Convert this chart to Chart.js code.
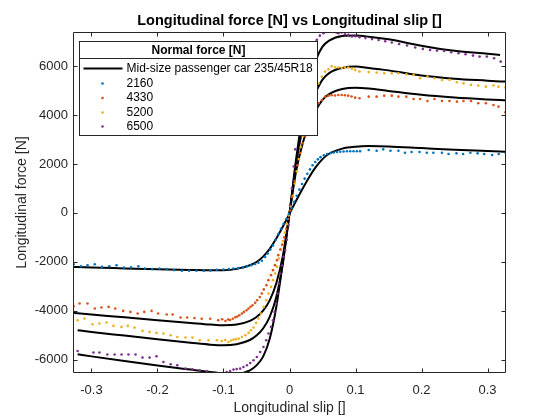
<!DOCTYPE html>
<html><head><meta charset="utf-8">
<script src="https://cdn.jsdelivr.net/npm/chart.js@4"></script>
<style>html,body{margin:0;padding:0;background:#fff}</style>
</head><body>
<canvas id="c" width="560" height="420"></canvas>
<script>
const titleText = 'Longitudinal force [N] vs Longitudinal slip []';
const xLabel = 'Longitudinal slip []';
const yLabel = 'Longitudinal force [N]';
const legendTitle = 'Normal force [N]';
const lineName = 'Mid-size passenger car 235/45R18';
const loads = ['2160', '4330', '5200', '6500'];
const xTicks = [-0.3, -0.2, -0.1, 0, 0.1, 0.2, 0.3];
const yTicks = [-6000, -4000, -2000, 0, 2000, 4000, 6000];
const xRange = [-0.328, 0.328];
const yRange = [-6550, 7400];

// fitted model curves (black lines)
const lineSlip = [-0.328,-0.321,-0.3,-0.25,-0.2,-0.15,-0.12,-0.1,-0.08,-0.06,-0.05,-0.04,-0.03,-0.02,-0.01,0,0.01,0.02,0.03,0.04,0.05,0.06,0.08,0.1,0.12,0.15,0.2,0.25,0.3,0.319,0.328];
const fit2160 = [-2207,-2215,-2235,-2270,-2305,-2335,-2350,-2345,-2290,-2140,-2010,-1790,-1470,-1050,-560,-30,500,1000,1470,1880,2200,2420,2630,2710,2735,2720,2650,2580,2530,2510,2500];
const fit4330 = [-4092,-4110,-4160,-4270,-4390,-4500,-4565,-4596,-4570,-4420,-4260,-4000,-3580,-2880,-1750,-20,1700,2850,3650,4200,4620,4860,5070,5120,5090,4990,4830,4720,4640,4615,4600];
const fit5200 = [null,-4800,-4870,-5020,-5170,-5310,-5390,-5415,-5370,-5200,-5020,-4730,-4250,-3440,-2050,-20,2000,3450,4350,4950,5450,5720,5930,5985,5930,5830,5620,5490,5410,5380,5370];
const fit6500 = [null,-5784,-5870,-6060,-6240,-6410,-6510,-6570,-6580,-6440,-6240,-5880,-5150,-3850,-2000,-20,2200,4000,5300,6250,6800,7050,7240,7255,7210,7100,6840,6630,6510,6463,null];

// measured data points [slip, force]
const meas2160 = [[-0.327,-2100],[-0.316,-2180],[-0.306,-2140],[-0.295,-2100],[-0.284,-2210],[-0.273,-2180],[-0.262,-2140],[-0.251,-2240],[-0.240,-2230],[-0.229,-2180],[-0.219,-2280],[-0.208,-2300],[-0.197,-2280],[-0.186,-2300],[-0.175,-2340],[-0.163,-2370],[-0.152,-2370],[-0.141,-2370],[-0.130,-2370],[-0.120,-2360],[-0.110,-2330],[-0.100,-2320],[-0.092,-2300],[-0.085,-2280],[-0.078,-2260],[-0.070,-2230],[-0.064,-2180],[-0.058,-2140],[-0.052,-2090],[-0.047,-2040],[-0.042,-1960],[-0.037,-1800],[-0.033,-1660],[-0.029,-1500],[-0.025,-1330],[-0.021,-1100],[-0.017,-870],[-0.013,-650],[-0.009,-450],[-0.005,-250],[-0.001,-50],[0.003,200],[0.007,450],[0.011,700],[0.015,950],[0.019,1180],[0.023,1400],[0.027,1600],[0.031,1780],[0.035,1950],[0.039,2080],[0.043,2190],[0.047,2280],[0.052,2360],[0.057,2410],[0.062,2450],[0.067,2470],[0.072,2490],[0.077,2500],[0.082,2510],[0.087,2520],[0.092,2520],[0.097,2520],[0.102,2520],[0.107,2520],[0.120,2570],[0.132,2545],[0.142,2600],[0.153,2545],[0.165,2545],[0.175,2462],[0.185,2490],[0.197,2490],[0.208,2462],[0.218,2462],[0.231,2462],[0.241,2408],[0.253,2435],[0.263,2408],[0.274,2462],[0.285,2435],[0.295,2408],[0.307,2367],[0.317,2408],[0.328,2435]];
const meas4330 = [[-0.327,-3818],[-0.318,-3707],[-0.306,-3707],[-0.295,-3912],[-0.285,-3871],[-0.274,-3846],[-0.264,-3912],[-0.252,-4010],[-0.241,-4051],[-0.230,-4117],[-0.220,-4051],[-0.209,-4010],[-0.199,-4117],[-0.186,-4158],[-0.177,-4158],[-0.165,-4280],[-0.155,-4280],[-0.144,-4300],[-0.133,-4330],[-0.120,-4330],[-0.108,-4391],[-0.102,-4350],[-0.097,-4420],[-0.093,-4360],[-0.090,-4380],[-0.086,-4330],[-0.082,-4270],[-0.079,-4240],[-0.076,-4186],[-0.072,-4120],[-0.069,-4050],[-0.065,-3980],[-0.062,-3912],[-0.059,-3840],[-0.056,-3776],[-0.052,-3680],[-0.049,-3572],[-0.045,-3440],[-0.042,-3297],[-0.039,-3130],[-0.035,-2957],[-0.032,-2752],[-0.028,-2548],[-0.025,-2343],[-0.022,-2138],[-0.019,-1933],[-0.017,-1728],[-0.014,-1500],[-0.011,-1300],[-0.008,-1000],[-0.005,-650],[-0.002,-250],[0.001,100],[0.004,650],[0.008,1300],[0.012,1950],[0.016,2450],[0.020,2850],[0.024,3150],[0.028,3450],[0.032,3750],[0.036,4000],[0.040,4250],[0.044,4485],[0.049,4620],[0.054,4755],[0.059,4797],[0.064,4810],[0.069,4800],[0.074,4825],[0.079,4825],[0.084,4810],[0.089,4797],[0.094,4760],[0.0995,4714],[0.106,4690],[0.120,4755],[0.132,4755],[0.1435,4797],[0.155,4797],[0.165,4755],[0.177,4755],[0.188,4661],[0.198,4661],[0.209,4580],[0.2197,4661],[0.231,4580],[0.2424,4580],[0.2536,4551],[0.2636,4580],[0.275,4580],[0.286,4485],[0.2976,4485],[0.309,4415],[0.3167,4346],[0.327,4115]];
const meas5200 = [[-0.321,-4391],[-0.3106,-4323],[-0.2985,-4555],[-0.288,-4527],[-0.277,-4487],[-0.2667,-4623],[-0.2545,-4665],[-0.245,-4623],[-0.2348,-4692],[-0.2227,-4828],[-0.212,-4869],[-0.2015,-4910],[-0.191,-4937],[-0.180,-5005],[-0.170,-5075],[-0.1576,-5100],[-0.147,-5100],[-0.136,-5210],[-0.1227,-5210],[-0.110,-5210],[-0.1025,-5240],[-0.0974,-5200],[-0.0924,-5280],[-0.0885,-5220],[-0.0848,-5180],[-0.081,-5170],[-0.077,-5140],[-0.072,-5075],[-0.067,-5005],[-0.062,-4910],[-0.0585,-4800],[-0.0545,-4690],[-0.0505,-4500],[-0.047,-4323],[-0.0433,-4117],[-0.039,-3846],[-0.0353,-3572],[-0.0318,-3297],[-0.028,-3027],[-0.025,-2752],[-0.0217,-2478],[-0.019,-2207],[-0.016,-1864],[-0.013,-1500],[-0.010,-1150],[-0.007,-800],[-0.004,-450],[-0.001,-100],[0.002,250],[0.005,700],[0.008,1200],[0.011,1700],[0.014,2200],[0.017,2700],[0.020,3150],[0.024,3600],[0.028,4000],[0.032,4350],[0.036,4700],[0.040,5000],[0.044,5300],[0.049,5575],[0.054,5780],[0.059,5877],[0.064,6000],[0.069,5960],[0.074,5945],[0.079,5930],[0.084,5945],[0.089,5945],[0.0945,5900],[0.0995,5850],[0.106,5780],[0.120,5760],[0.132,5740],[0.1435,5712],[0.155,5712],[0.165,5712],[0.177,5672],[0.188,5644],[0.198,5508],[0.209,5575],[0.2197,5508],[0.231,5440],[0.2424,5440],[0.2536,5345],[0.2636,5300],[0.275,5235],[0.286,5210],[0.2976,5165],[0.309,5210],[0.3167,5165],[0.327,5130]];
const meas6500 = [[-0.321,-5648],[-0.297,-5714],[-0.288,-5714],[-0.276,-5796],[-0.265,-5796],[-0.2545,-5796],[-0.244,-5796],[-0.2333,-5796],[-0.2227,-5919],[-0.212,-5919],[-0.2015,-5865],[-0.191,-6099],[-0.180,-6193],[-0.170,-6234],[-0.1576,-6370],[-0.147,-6400],[-0.136,-6439],[-0.125,-6480],[-0.114,-6530],[-0.105,-6570],[-0.0974,-6574],[-0.095,-6508],[-0.090,-6470],[-0.0848,-6410],[-0.080,-6390],[-0.0747,-6370],[-0.0697,-6304],[-0.0645,-6234],[-0.0595,-6140],[-0.0545,-6029],[-0.0494,-5894],[-0.0444,-5690],[-0.0394,-5485],[-0.0353,-5210],[-0.0318,-4937],[-0.028,-4665],[-0.025,-4391],[-0.0227,-4050],[-0.0202,-3707],[-0.018,-3297],[-0.016,-2888],[-0.014,-2478],[-0.0115,-2150],[-0.009,-1798],[-0.0065,-1523],[-0.004,-1100],[-0.0015,-500],[0.001,300],[0.0036,1000],[0.0065,1900],[0.0086,2600],[0.011,3200],[0.014,3900],[0.017,4500],[0.020,5000],[0.024,5600],[0.028,6100],[0.032,6500],[0.036,6800],[0.040,7000],[0.0415,7078],[0.046,7250],[0.0515,7352],[0.0567,7420],[0.062,7440],[0.067,7400],[0.071,7380],[0.074,7352],[0.079,7380],[0.084,7311],[0.089,7283],[0.0945,7215],[0.100,7230],[0.106,7190],[0.115,7150],[0.125,7110],[0.135,7070],[0.145,7020],[0.155,6970],[0.166,6910],[0.178,6845],[0.1905,6763],[0.202,6709],[0.213,6668],[0.2235,6640],[0.2344,6627],[0.245,6572],[0.256,6531],[0.2667,6490],[0.278,6435],[0.288,6394],[0.299,6394],[0.310,6326],[0.320,6190]];

const dotColors = ['#0072BD', '#D95319', '#EDB120', '#7E2F8E'];
const FONT = '"Liberation Sans", Arial, Helvetica, sans-serif';
const AX = '#262626';

const fits = [fit2160, fit4330, fit5200, fit6500];
const meas = [meas2160, meas4330, meas5200, meas6500];

const datasets = [];
fits.forEach((f, i) => {
  datasets.push({
    label: lineName + ' ' + loads[i],
    data: lineSlip.map((s, k) => ({x: s, y: f[k]})),
    showLine: true, borderColor: '#000', borderWidth: 2, pointRadius: 0,
    cubicInterpolationMode: 'monotone', spanGaps: false, clip: 0, order: 2
  });
});
meas.forEach((m, i) => {
  datasets.push({
    label: loads[i],
    data: m.map(p => ({x: p[0], y: p[1]})),
    showLine: false, pointRadius: 1.3, pointBorderWidth: 0,
    backgroundColor: dotColors[i], borderColor: dotColors[i], clip: 0, order: 1
  });
});

const framePlugin = {
  id: 'frame',
  afterDatasetsDraw(chart) {
    const {ctx, chartArea: a, scales: {x, y}} = chart;
    ctx.save();
    ctx.strokeStyle = AX; ctx.lineWidth = 1;
    const L = Math.round(a.left) + 0.5, R = Math.round(a.right) - 0.5;
    const T = Math.round(a.top) + 0.5, B = Math.round(a.bottom) - 0.5;
    ctx.beginPath();
    ctx.rect(L, T, R - L, B - T);
    const tl = 4;
    xTicks.forEach(v => {
      const px = Math.round(x.getPixelForValue(v)) + 0.5;
      ctx.moveTo(px, B); ctx.lineTo(px, B - tl);
      ctx.moveTo(px, T); ctx.lineTo(px, T + tl);
    });
    yTicks.forEach(v => {
      const py = Math.round(y.getPixelForValue(v)) + 0.5;
      ctx.moveTo(L, py); ctx.lineTo(L + tl, py);
      ctx.moveTo(R, py); ctx.lineTo(R - tl, py);
    });
    ctx.stroke();
    ctx.restore();
  }
};

const legendPlugin = {
  id: 'boxLegend',
  afterDraw(chart) {
    const {ctx, chartArea: a} = chart;
    const bx = a.left + 6.5, by = a.top + 9.5, bw = 238, bh = 94;
    ctx.save();
    ctx.fillStyle = '#fff';
    ctx.fillRect(bx, by, bw, bh);
    ctx.strokeStyle = AX; ctx.lineWidth = 1;
    ctx.strokeRect(bx, by, bw, bh);
    ctx.beginPath();
    ctx.moveTo(bx, by + 17); ctx.lineTo(bx + bw, by + 17);
    ctx.stroke();
    ctx.fillStyle = '#000';
    ctx.textBaseline = 'middle';
    ctx.textAlign = 'center';
    ctx.font = 'bold 12px ' + FONT;
    ctx.fillText(legendTitle, bx + bw / 2, by + 9);
    ctx.textAlign = 'left';
    ctx.font = '12px ' + FONT;
    const rowY = [by + 27, by + 42, by + 56.5, by + 71, by + 85];
    ctx.strokeStyle = '#000'; ctx.lineWidth = 2;
    ctx.beginPath(); ctx.moveTo(bx + 4, rowY[0]); ctx.lineTo(bx + 43, rowY[0]); ctx.stroke();
    ctx.fillText(lineName, bx + 47, rowY[0]);
    loads.forEach((l, i) => {
      ctx.fillStyle = dotColors[i];
      ctx.beginPath(); ctx.arc(bx + 23, rowY[i + 1], 1.3, 0, Math.PI * 2); ctx.fill();
      ctx.fillStyle = '#000';
      ctx.fillText(l, bx + 47, rowY[i + 1]);
    });
    ctx.restore();
  }
};

new Chart(document.getElementById('c'), {
  type: 'scatter',
  data: {datasets},
  options: {
    responsive: false, animation: false, devicePixelRatio: 1,
    layout: {padding: {left: 0, right: 54, top: 0, bottom: 0}},
    plugins: {
      legend: {display: false}, tooltip: {enabled: false},
      title: {display: true, text: titleText, color: '#000', fullSize: false,
        font: {family: FONT, size: 14.5, weight: 'bold'}, padding: {top: 12.3, bottom: 2.3}}
    },
    scales: {
      x: {
        type: 'linear', min: xRange[0], max: xRange[1],
        afterFit(s) { s.height = 47; },
        afterBuildTicks(s) { s.ticks = xTicks.map(v => ({value: v})); },
        grid: {display: false, drawTicks: false}, border: {display: false},
        ticks: {color: AX, padding: 10, font: {family: FONT, size: 13}, maxRotation: 0,
          callback: v => String(Math.round(v * 10) / 10)},
        title: {display: true, text: xLabel, color: AX, font: {family: FONT, size: 14}, padding: {top: 0, bottom: 3.6}}
      },
      y: {
        type: 'linear', min: yRange[0], max: yRange[1],
        afterFit(s) { s.width = 73; },
        afterBuildTicks(s) { s.ticks = yTicks.map(v => ({value: v})); },
        grid: {display: false, drawTicks: false}, border: {display: false},
        ticks: {color: AX, padding: 5, font: {family: FONT, size: 13}, callback: v => String(v)},
        title: {display: true, text: yLabel, color: AX, font: {family: FONT, size: 14}, padding: {top: 13.6, bottom: 0}}
      }
    }
  },
  plugins: [framePlugin, legendPlugin]
});
</script>
</body></html>
